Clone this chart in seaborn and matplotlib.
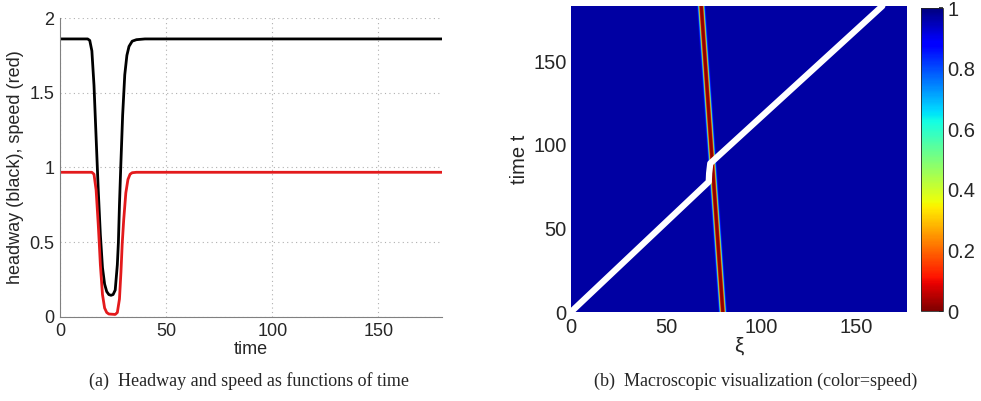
import numpy as np
import pandas as pd
import matplotlib
matplotlib.use("Agg")
import matplotlib.pyplot as plt
import seaborn as sns

# ---- data ----
time_pts = [0, 13, 14, 15, 16, 17, 18, 19, 20, 21, 22, 23, 24, 25, 26, 27, 27.5,
            28, 28.6, 29.5, 30.5, 31.5, 32.5, 34, 36, 40, 180]
headway = [1.86, 1.86, 1.85, 1.78, 1.55, 1.2, 0.85, 0.55, 0.33, 0.22, 0.17, 0.15,
           0.145, 0.15, 0.18, 0.35, 0.5, 0.75, 1.0, 1.35, 1.62, 1.75, 1.81, 1.845,
           1.855, 1.86, 1.86]

speed_time = [0, 15, 16, 17, 18, 18.5, 19, 20, 21, 22, 23, 26, 27, 28, 28.7, 29.3,
              30, 31, 32, 33, 34, 36, 180]
speed = [0.968, 0.968, 0.955, 0.85, 0.62, 0.49, 0.35, 0.15, 0.06, 0.03, 0.02, 0.017,
         0.03, 0.12, 0.3, 0.49, 0.65, 0.83, 0.92, 0.955, 0.965, 0.968, 0.968]

# jam stripe in the (xi, t) plane: centre at t=0 and t=183, speed profile across it
jam_t = [0, 183]
jam_centre = [79.5, 68.2]
jam_offset = [-2.4, -1.8, -1.45, -1.15, -0.85, 0.0, 0.85, 1.15, 1.45, 1.8, 2.4]
jam_speed = [0.968, 0.85, 0.6, 0.3, 0.03, 0.01, 0.03, 0.3, 0.6, 0.85, 0.968]

# trajectory of the observed vehicle (white)
traj_xi = [0.0, 72.4, 72.6, 73.2, 163.6]
traj_t = [0.0, 77.9, 83.0, 88.9, 183.0]

cbar_ticks = [0, 0.2, 0.4, 0.6, 0.8, 1]

# ---- figure ----
sns.set_theme(style="white")
plt.rcParams["font.family"] = ["Liberation Sans", "DejaVu Sans"]

fig = plt.figure(figsize=(9.81, 4.01), dpi=100)

# left panel
ax1 = fig.add_axes([0.0612, 0.2095, 0.3894, 0.7456])
df_h = pd.DataFrame({"time": time_pts, "v": headway})
df_s = pd.DataFrame({"time": speed_time, "v": speed})
sns.lineplot(data=df_h, x="time", y="v", ax=ax1, color="black", lw=2.0, estimator=None)
sns.lineplot(data=df_s, x="time", y="v", ax=ax1, color="#e31a1c", lw=2.0, estimator=None)
ax1.set_xlim(0, 180)
ax1.set_ylim(0, 2)
ax1.set_xticks([0, 50, 100, 150])
ax1.set_yticks([0, 0.5, 1, 1.5, 2])
ax1.set_yticklabels(["0", "0.5", "1", "1.5", "2"])
ax1.grid(True, linestyle=(0, (1, 3)), color="#b0b0b0", lw=0.8)
for s in ["top", "right"]:
    ax1.spines[s].set_visible(False)
for s in ["left", "bottom"]:
    ax1.spines[s].set_color("#808080")
    ax1.spines[s].set_linewidth(0.8)
ax1.tick_params(labelsize=13, length=0, pad=4)
ax1.set_xlabel("time", fontsize=13, labelpad=1)
ax1.set_ylabel("headway (black), speed (red)", fontsize=13, labelpad=4)

# right panel
ax2 = fig.add_axes([0.582, 0.2219, 0.3415, 0.7631])
xi = np.arange(0, 176.01, 0.1)
tt = np.arange(0, 183.01, 0.5)
centres = np.interp(tt, jam_t, jam_centre)
field = np.array([np.interp(xi - c, jam_offset, jam_speed, left=jam_speed[0], right=jam_speed[-1])
                  for c in centres])
im = ax2.imshow(field, origin="lower", extent=[0, 176, 0, 183], aspect="auto",
                cmap="jet_r", vmin=0, vmax=1, interpolation="bilinear")
sns.lineplot(x=traj_xi, y=traj_t, ax=ax2, sort=False, estimator=None, color="white",
             lw=4.5, solid_capstyle="round")
ax2.set_xlim(0, 176)
ax2.set_ylim(0, 183)
ax2.set_xticks([0, 50, 100, 150])
ax2.set_yticks([0, 50, 100, 150])
for s in ax2.spines.values():
    s.set_visible(False)
ax2.tick_params(axis="x", labelsize=14.5, length=0, pad=4)
ax2.tick_params(axis="y", labelsize=14.5, length=0, pad=3)
ax2.set_xlabel("ξ", fontsize=15, labelpad=0)
ax2.set_ylabel("time t", fontsize=14.5, labelpad=3)

cax = fig.add_axes([0.9388, 0.2244, 0.0224, 0.7556])
cb = fig.colorbar(im, cax=cax, ticks=cbar_ticks)
cb.ax.set_yticklabels(["0", "0.2", "0.4", "0.6", "0.8", "1"])
cb.ax.tick_params(labelsize=14.5, length=3, direction="in", pad=3)
cb.outline.set_linewidth(0.6)

# captions
fig.text(0.254, 0.05, "(a)  Headway and speed as functions of time", ha="center",
         va="center", fontsize=13, family="Liberation Serif")
fig.text(0.770, 0.05, "(b)  Macroscopic visualization (color=speed)", ha="center",
         va="center", fontsize=13, family="Liberation Serif")

fig.savefig("out.png", dpi=100)
